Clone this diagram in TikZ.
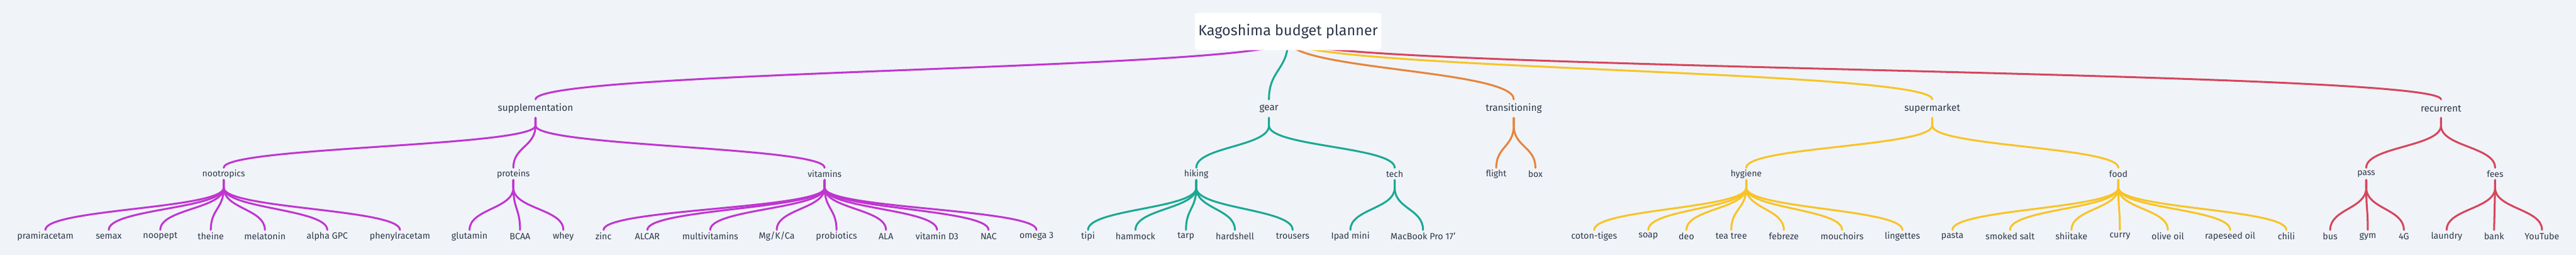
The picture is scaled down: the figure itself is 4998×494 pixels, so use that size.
\documentclass[tikz,border=0pt]{standalone}
\usepackage{fontspec}
\setmainfont{Fira Sans}
\usetikzlibrary{calc}
\definecolor{bgGrey}{RGB}{240,244,248}
\definecolor{inkDark}{RGB}{45,55,72}
\definecolor{mmPurple}{RGB}{192,53,208}
\definecolor{mmTeal}{RGB}{26,168,148}
\definecolor{mmOrange}{RGB}{232,131,58}
\definecolor{mmYellow}{RGB}{248,195,38}
\definecolor{mmRed}{RGB}{214,69,93}
\pgfdeclarelayer{front}
\pgfsetlayers{main,front}

\begin{document}
\begin{tikzpicture}[
    x=0.5pt, y=-0.5pt,
    link/.style={line width=1.85pt, line cap=round},
    vlink/.style={to path={let \p1=(\tikztostart), \p2=(\tikztotarget) in
        .. controls (\x1,{0.5*(\y1+\y2)}) and (\x2,{0.5*(\y1+\y2)}) .. (\tikztotarget)}},
    rootbox/.style={fill=white, rounded corners=2.5pt, text=inkDark,
        minimum width=177pt, minimum height=36pt, font=\fontsize{14.3}{16}\selectfont},
    cat/.style={text=inkDark, inner sep=0pt, minimum height=17.5pt, font=\fontsize{9.4}{10}\selectfont},
    sub/.style={text=inkDark, inner sep=0pt, minimum height=11.5pt, font=\fontsize{8.5}{9}\selectfont},
    leaf/.style={text=inkDark, inner sep=0pt, minimum height=12pt, font=\fontsize{8.7}{9}\selectfont},
  ]
    % Canvas
    \fill[bgGrey] (0,0) rectangle (4998,494);

    % Root
    \begin{pgfonlayer}{front}
      \node[rootbox] (root) at (2499,61) {Kagoshima budget planner};
    \end{pgfonlayer}

    % First level
    \node[cat] (supp)  at (1039,210.5) {supplementation};
    \node[cat] (gear)  at (2462,210.5) {gear};
    \node[cat] (trans) at (2937,210.5) {transitioning};
    \node[cat] (smkt)  at (3749,210.5) {supermarket};
    \node[cat] (recur) at (4736,210.5) {recurrent};

    \draw[link, mmPurple] ($(root.center)+(0,17)$) to[vlink] (supp.north);
    \draw[link, mmTeal]   ($(root.center)+(0,17)$) to[vlink] (gear.north);
    \draw[link, mmOrange] ($(root.center)+(0,17)$) to[vlink] (trans.north);
    \draw[link, mmYellow] ($(root.center)+(0,17)$) to[vlink] (smkt.north);
    \draw[link, mmRed]    ($(root.center)+(0,17)$) to[vlink] (recur.north);

    % Second level
    \foreach \kid/\kx/\up/\col/\txt in {noot/434/supp/mmPurple/nootropics, prot/996/supp/mmPurple/proteins,
        vita/1600/supp/mmPurple/vitamins, hike/2321/gear/mmTeal/hiking, tech/2706/gear/mmTeal/tech,
        flight/2903/trans/mmOrange/flight, box/2979/trans/mmOrange/box,
        hyg/3388/smkt/mmYellow/hygiene, food/4110/smkt/mmYellow/food,
        pass/4591/recur/mmRed/pass, fees/4841/recur/mmRed/fees} {
      \node[sub] (\kid) at (\kx,337) {\txt};
      \draw[link, \col] (\up.south) -- ++(0,15) to[vlink] (\kid.north);
    }

    % Leaves
    \foreach \kid/\kx/\txt in {pram/88/pramiracetam, semax/211/semax, noopept/311/noopept, theine/409/theine,
        melat/514/melatonin, agpc/635/{alpha GPC}, phenyl/776/phenylracetam} {
      \node[leaf] (\kid) at (\kx,458) {\txt};
      \draw[link, mmPurple] (noot.south) -- ++(0,15) to[vlink] (\kid.north);
    }
    \foreach \kid/\kx/\txt in {glut/911/glutamin, bcaa/1009/BCAA, whey/1093/whey} {
      \node[leaf] (\kid) at (\kx,458) {\txt};
      \draw[link, mmPurple] (prot.south) -- ++(0,15) to[vlink] (\kid.north);
    }
    \foreach \kid/\kx/\txt in {zinc/1171/zinc, alcar/1256/ALCAR, multi/1378/multivitamins, mgkca/1507/{Mg/K/Ca},
        probio/1623/probiotics, ala/1719/ALA, vitd/1818/{vitamin D3}, nac/1918/NAC, omega/2011/{omega 3}} {
      \node[leaf] (\kid) at (\kx,458) {\txt};
      \draw[link, mmPurple] (vita.south) -- ++(0,15) to[vlink] (\kid.north);
    }
    \foreach \kid/\kx/\txt in {tipi/2111/tipi, hammock/2203/hammock, tarp/2301/tarp, hardshell/2396/hardshell,
        trousers/2508/trousers} {
      \node[leaf] (\kid) at (\kx,458) {\txt};
      \draw[link, mmTeal] (hike.south) -- ++(0,15) to[vlink] (\kid.north);
    }
    \foreach \kid/\kx/\txt in {ipad/2620/{Ipad mini}, macbook/2761/{MacBook Pro 17'}} {
      \node[leaf] (\kid) at (\kx,458) {\txt};
      \draw[link, mmTeal] (tech.south) -- ++(0,15) to[vlink] (\kid.north);
    }
    \foreach \kid/\kx/\txt in {coton/3093/coton-tiges, soap/3198/soap, deo/3272/deo, teatree/3359/{tea tree},
        febreze/3461/febreze, mouch/3574/mouchoirs, linget/3691/lingettes} {
      \node[leaf] (\kid) at (\kx,458) {\txt};
      \draw[link, mmYellow] (hyg.south) -- ++(0,15) to[vlink] (\kid.north);
    }
    \foreach \kid/\kx/\txt in {pasta/3788/pasta, salt/3900/{smoked salt}, shiitake/4019/shiitake, curry/4113/curry,
        olive/4206/{olive oil}, rape/4327/{rapeseed oil}, chili/4436/chili} {
      \node[leaf] (\kid) at (\kx,458) {\txt};
      \draw[link, mmYellow] (food.south) -- ++(0,15) to[vlink] (\kid.north);
    }
    \foreach \kid/\kx/\txt in {bus/4521/bus, gym/4594/gym, fourg/4664/4G} {
      \node[leaf] (\kid) at (\kx,458) {\txt};
      \draw[link, mmRed] (pass.south) -- ++(0,15) to[vlink] (\kid.north);
    }
    \foreach \kid/\kx/\txt in {laundry/4747/laundry, bank/4839/bank, youtube/4932/YouTube} {
      \node[leaf] (\kid) at (\kx,458) {\txt};
      \draw[link, mmRed] (fees.south) -- ++(0,15) to[vlink] (\kid.north);
    }
\end{tikzpicture}
\end{document}
